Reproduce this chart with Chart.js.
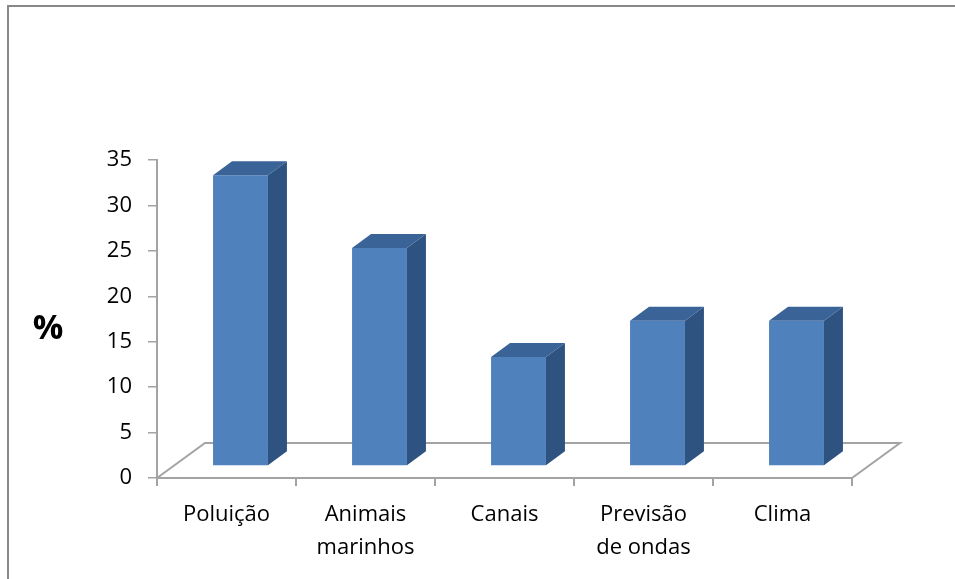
<!DOCTYPE html>
<html>
<head>
  <meta charset="utf-8" />
  <script src="https://cdn.jsdelivr.net/npm/chart.js@4.4.0/dist/chart.umd.min.js"></script>
  <style>
    body { margin:0; background:#fff; }
    #holder { position:relative; width:955px; height:579px; }
  </style>
</head>
<body>
  <div id="holder"><canvas id="barChart" width="955" height="579"></canvas></div>

<script>
const categories = [['Poluição'], ['Animais', 'marinhos'], ['Canais'], ['Previsão', 'de ondas'], ['Clima']];
const percentValues = [32, 24, 12, 16, 16];
const yTicks = [0, 5, 10, 15, 20, 25, 30, 35];
const yAxisTitle = '%';

const FONT = "'Open Sans', sans-serif";
const FRONT = '#4F81BD', SIDE = '#2F5380', TOP = '#3A6397';
const AXIS_GRAY = '#A3A3A3';
const FLOOR_DX = 48, FLOOR_DY = -35;   // depth of the floor
const BAR_DX = 14, BAR_DY = -12;       // where the bar's front face sits
const SIDE_DX = 19, SIDE_DY = -14;     // bar depth

const box3d = {
  id: 'box3d',
  beforeDraw(chart) {
    const ctx = chart.ctx;
    ctx.save();
    ctx.strokeStyle = '#888';
    ctx.lineWidth = 2;
    ctx.beginPath();
    ctx.moveTo(8, 579); ctx.lineTo(8, 6); ctx.lineTo(955, 6);
    ctx.stroke();
    // percent label
    ctx.fillStyle = '#000';
    ctx.font = "bold 34px " + FONT;
    ctx.textAlign = 'center';
    ctx.textBaseline = 'middle';
    ctx.fillText(yAxisTitle, 48, 329);
    ctx.restore();
  },
  beforeDatasetsDraw(chart) {
    const ctx = chart.ctx, a = chart.chartArea;
    ctx.save();
    ctx.strokeStyle = AXIS_GRAY;
    ctx.lineWidth = 2;
    ctx.beginPath();
    ctx.moveTo(a.left, a.bottom);
    ctx.lineTo(a.left + FLOOR_DX, a.bottom + FLOOR_DY);
    ctx.lineTo(a.right + FLOOR_DX, a.bottom + FLOOR_DY);
    ctx.lineTo(a.right, a.bottom);
    ctx.stroke();
    ctx.restore();
    ctx.save();
    ctx.translate(BAR_DX, BAR_DY);
  },
  afterDatasetsDraw(chart) {
    const ctx = chart.ctx;
    ctx.restore();
    ctx.save();
    chart.getDatasetMeta(0).data.forEach(bar => {
      const x1 = bar.x - bar.width / 2 + BAR_DX;
      const x2 = bar.x + bar.width / 2 + BAR_DX;
      const yt = bar.y + BAR_DY;
      const yb = bar.base + BAR_DY;
      ctx.fillStyle = SIDE;
      ctx.beginPath();
      ctx.moveTo(x2, yt);
      ctx.lineTo(x2 + SIDE_DX, yt + SIDE_DY);
      ctx.lineTo(x2 + SIDE_DX, yb + SIDE_DY);
      ctx.lineTo(x2, yb);
      ctx.closePath();
      ctx.fill();
      ctx.fillStyle = TOP;
      ctx.beginPath();
      ctx.moveTo(x1, yt);
      ctx.lineTo(x1 + SIDE_DX, yt + SIDE_DY);
      ctx.lineTo(x2 + SIDE_DX, yt + SIDE_DY);
      ctx.lineTo(x2, yt);
      ctx.closePath();
      ctx.fill();
    });
    ctx.restore();
  }
};

new Chart(document.getElementById('barChart'), {
  type: 'bar',
  data: {
    labels: categories,
    datasets: [{ data: percentValues, backgroundColor: FRONT, borderWidth: 0,
                 barPercentage: 0.395, categoryPercentage: 1 }]
  },
  options: {
    responsive: false,
    animation: false,
    layout: { padding: { left: 0, top: 160, right: 103, bottom: 0 } },
    plugins: { legend: { display: false }, tooltip: { enabled: false } },
    scales: {
      x: {
        afterFit: s => { s.height = 101; },
        grid: { drawOnChartArea: false, offset: true, tickLength: 8, color: AXIS_GRAY, lineWidth: 2 },
        border: { color: AXIS_GRAY, width: 2 },
        ticks: { color: '#000', font: { family: FONT, size: 22, lineHeight: 1.5 }, padding: 12, maxRotation: 0, autoSkip: false }
      },
      y: {
        min: 0, max: 35,
        afterFit: s => { s.width = 157; },
        afterBuildTicks: s => { s.ticks = yTicks.map(v => ({ value: v })); },
        grid: { drawOnChartArea: false, tickLength: 9, color: AXIS_GRAY, lineWidth: 1.5 },
        border: { color: AXIS_GRAY, width: 2 },
        ticks: { color: '#000', font: { family: FONT, size: 22 }, padding: 16 }
      }
    }
  },
  plugins: [box3d]
});
</script>
</body>
</html>
